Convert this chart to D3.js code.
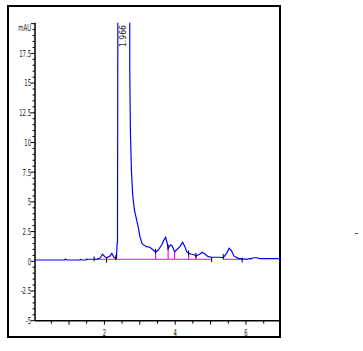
<!DOCTYPE html>
<html>
<head>
<meta charset="utf-8">
<script src="https://cdn.jsdelivr.net/npm/d3@7"></script>
<style>
  body { margin: 0; background: #fff; }
  text { font-family: "Liberation Sans Narrow", "DejaVu Sans Condensed", sans-serif; fill: #222; }
</style>
</head>
<body>
<svg id="chart" width="363" height="351"></svg>
<script>
// retention time (min) and signal (mAU)
const times = [0.04, 0.88, 0.9, 0.94, 1.31, 1.32, 1.35, 1.48, 1.5, 1.53, 1.59, 1.79, 1.87, 1.95, 2.01, 2.06, 2.16, 2.21, 2.27, 2.34,
  2.36, 2.37, 2.39, 2.55, 2.712, 2.717, 2.734, 2.763, 2.8, 2.847, 2.91, 2.955, 3.003, 3.068, 3.19, 3.285, 3.378, 3.446,
  3.52, 3.616, 3.68, 3.729, 3.774, 3.8, 3.87, 3.915, 3.983, 4.056, 4.133, 4.209, 4.274, 4.322, 4.379, 4.463, 4.556,
  4.585, 4.698, 4.763, 4.839, 4.932, 5.028, 5.263, 5.356, 5.452, 5.525, 5.593, 5.658, 5.78, 5.921, 6.05, 6.11, 6.14,
  6.203, 6.3, 6.393, 6.96];
const signal = [0.11, 0.11, 0.19, 0.11, 0.11, 0.17, 0.11, 0.11, 0.19, 0.15, 0.17, 0.19, 0.25, 0.59, 0.39, 0.3, 0.45, 0.67, 0.34, 0.25,
  1.54, 1.54, 40, 60, 40, 16.1, 11.05, 7.69, 5.58, 4.32, 3.48, 2.89, 2.07, 1.46, 1.23, 1.18, 0.95, 0.76,
  0.95, 1.37, 1.78, 2.02, 1.52, 1.09, 1.37, 1.29, 0.81, 1.01, 1.23, 1.6, 1.23, 0.81, 0.67, 0.59, 0.53,
  0.45, 0.61, 0.76, 0.61, 0.39, 0.34, 0.34, 0.3, 0.67, 1.09, 0.87, 0.45, 0.25, 0.19, 0.19, 0.25, 0.19,
  0.3, 0.3, 0.22, 0.22];

// integration baselines
const baseStart = [1.73, 5.35];
const baseEnd = [5.03, 5.88];
const baseLevel = [0.17, 0.17];

// peak split drop lines
const dropTimes = [3.446, 3.8, 3.983, 4.379, 4.585];
const dropHeights = [0.76, 1.09, 0.81, 0.67, 0.45];

// integration event marks
const markTimes = [1.71, 2.06, 2.32, 3.446, 3.8, 4.379, 4.585, 5.03, 5.356, 5.89];
const markValues = [0.2, 0.1, 0.3, 0.85, 1.2, 0.7, 0.5, 0.15, 0.4, 0.1];

const yTicks = [-5, -2.5, 0, 2.5, 5, 7.5, 10, 12.5, 15, 17.5, 20];
const yLabels = ["-5", "-2.5", "0", "2.5", "5", "7.5", "10", "12.5", "15", "17.5", "mAU"];
const xTicks = [2, 4, 6];
const peakLabel = "1.966";

const svg = d3.select('#chart');
const plotLeft = 35, plotRight = 280, plotTop = 22.7, plotBottom = 320.7;
const squeeze = 0.62; // chemstation labels are very condensed

const x = d3.scaleLinear().domain([0.04, 6.96]).range([plotLeft, plotRight]);
const y = d3.scaleLinear().domain([-5, 20.08]).range([plotBottom, plotTop]);

// outer frame
svg.append('rect')
  .attr('x', 8).attr('y', 6).attr('width', 272).attr('height', 331)
  .attr('fill', 'none').attr('stroke', '#000').attr('stroke-width', 2);

svg.append('clipPath').attr('id', 'plotclip')
  .append('rect').attr('x', plotLeft).attr('y', plotTop)
  .attr('width', plotRight - plotLeft).attr('height', plotBottom - plotTop);

const plot = svg.append('g').attr('clip-path', 'url(#plotclip)');

plot.selectAll('.base').data(baseStart)
  .enter().append('line')
    .attr('x1', d => x(d))
    .attr('x2', (d, i) => x(baseEnd[i]))
    .attr('y1', (d, i) => y(baseLevel[i]))
    .attr('y2', (d, i) => y(baseLevel[i]))
    .attr('stroke', '#ff00ff').attr('stroke-width', 1);

plot.selectAll('.drop').data(dropTimes)
  .enter().append('line')
    .attr('x1', d => x(d)).attr('x2', d => x(d))
    .attr('y1', y(0.17))
    .attr('y2', (d, i) => y(dropHeights[i]))
    .attr('stroke', '#ff00ff').attr('stroke-width', 1.2);

const line = d3.line().x(d => x(d[0])).y(d => y(d[1]));
plot.append('path')
  .datum(times.map((t, i) => [t, signal[i]]))
  .attr('d', line)
  .attr('fill', 'none')
  .attr('stroke', '#0000ff')
  .attr('stroke-width', 1.2);

plot.selectAll('.mark').data(markTimes)
  .enter().append('line')
    .attr('x1', d => x(d)).attr('x2', d => x(d))
    .attr('y1', (d, i) => y(markValues[i]) - 2.5)
    .attr('y2', (d, i) => y(markValues[i]) + 2.5)
    .attr('stroke', '#000').attr('stroke-width', 1);

// y axis
const yAxis = svg.append('g');
yAxis.append('line').attr('x1', plotLeft).attr('x2', plotLeft).attr('y1', plotTop).attr('y2', plotBottom)
  .attr('stroke', '#000').attr('stroke-width', 1.5);
const yMinor = d3.range(-5, 20.01, 0.5);
yAxis.selectAll('.ym').data(yMinor)
  .enter().append('line')
    .attr('x1', plotLeft).attr('x2', d => yTicks.includes(d) ? plotLeft - 4 : plotLeft - 2.5)
    .attr('y1', d => y(d)).attr('y2', d => y(d))
    .attr('stroke', '#000').attr('stroke-width', 1);
yAxis.selectAll('.yl').data(yTicks)
  .enter().append('text')
    .attr('transform', (d, i) => `translate(31,${i === yTicks.length - 1 ? 28 : y(d)}) scale(${squeeze},1)`)
    .attr('dy', '0.35em')
    .attr('text-anchor', 'end')
    .attr('font-size', 9.5)
    .text((d, i) => yLabels[i]);

// x axis
const xAxis = svg.append('g');
xAxis.append('line').attr('x1', plotLeft).attr('x2', plotRight).attr('y1', plotBottom).attr('y2', plotBottom)
  .attr('stroke', '#000').attr('stroke-width', 1.5);
const xMinor = d3.range(0.5, 7, 0.5);
xAxis.selectAll('.xm').data(xMinor)
  .enter().append('line')
    .attr('x1', d => x(d)).attr('x2', d => x(d))
    .attr('y1', plotBottom).attr('y2', d => d % 1 === 0 ? plotBottom + 4 : plotBottom + 3)
    .attr('stroke', '#000').attr('stroke-width', 1);
xAxis.selectAll('.xl').data(xTicks)
  .enter().append('text')
    .attr('transform', d => `translate(${x(d)},332.5) scale(${squeeze},1)`)
    .attr('dy', '0.35em')
    .attr('text-anchor', 'middle')
    .attr('font-size', 9.5)
    .text(d => d);

// peak retention label
svg.append('text')
  .attr('transform', 'translate(126,47) rotate(-90)')
  .attr('font-size', 8.5)
  .attr('fill', '#000')
  .text(peakLabel);

svg.append('line').attr('x1', 355).attr('x2', 358).attr('y1', 233.5).attr('y2', 233.5)
  .attr('stroke', '#555').attr('stroke-width', 1);
</script>
</body>
</html>
